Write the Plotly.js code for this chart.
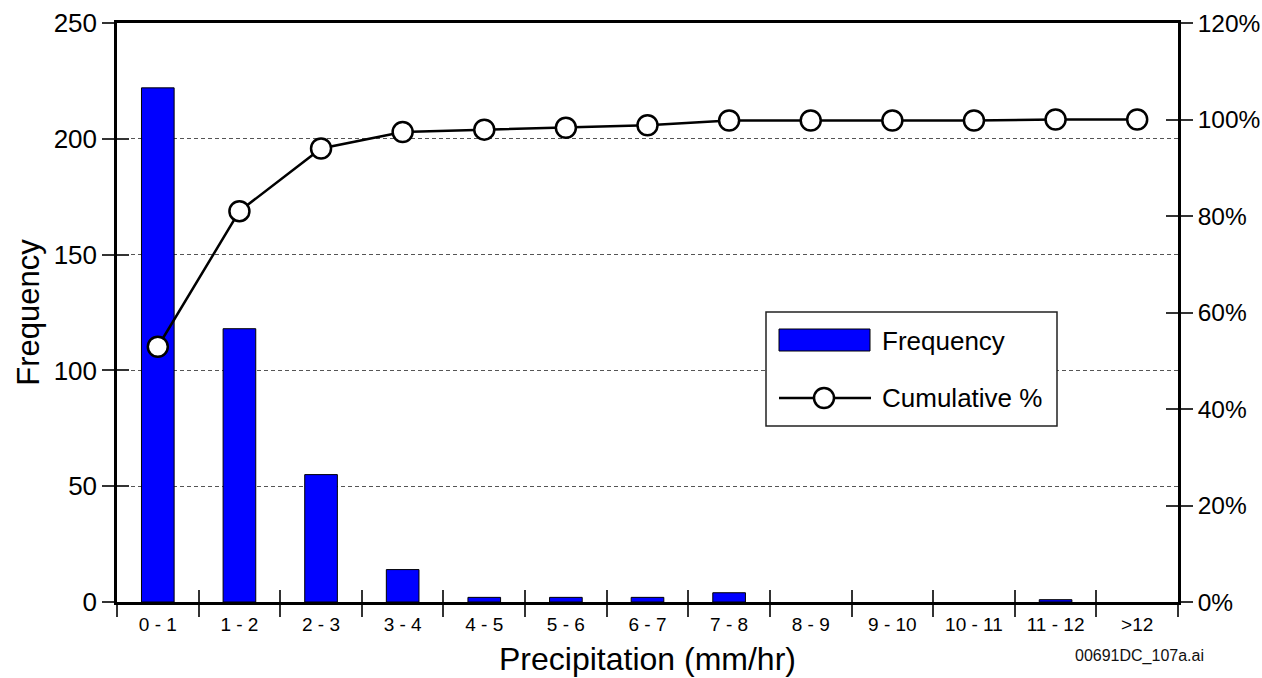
<!DOCTYPE html>
<html><head><meta charset="utf-8">
<script src="https://cdn.plot.ly/plotly-3.0.1.min.js"></script>
<style>html,body{margin:0;padding:0;background:#fff}#chart{width:1262px;height:678px}</style>
</head><body><div id="chart"></div>
<script>
const categories = ['0 - 1','1 - 2','2 - 3','3 - 4','4 - 5','5 - 6','6 - 7','7 - 8','8 - 9','9 - 10','10 - 11','11 - 12','>12'];
const frequency = [222,118,55,14,2,2,2,4,0,0,0,1,0];
const cumulativePct = [52.9,81.0,94.0,97.4,97.9,98.3,98.8,99.8,99.8,99.8,99.8,100,100];
const leftTicks = [0,50,100,150,200,250];
const rightTicks = [0,20,40,60,80,100,120];
const rightTickLabels = ['0%','20%','40%','60%','80%','100%','120%'];
const legendLabels = ['Frequency','Cumulative %'];
const fileTag = '00691DC_107a.ai';

const FONT = '"Liberation Sans", Arial, Helvetica, sans-serif';
const M = {l:117, r:84, t:23, b:76};
const W = 1262, H = 678;
const PW = W - M.l - M.r, PH = H - M.t - M.b;
const px = v => (v - M.l) / PW;
const py = v => (H - M.b - v) / PH;
const boundaries = categories.map((_, i) => i - 0.5).concat([categories.length - 0.5]);

const traces = [
  {type:'bar', x:categories, y:frequency, name:legendLabels[0], width:0.4,
   marker:{color:'#0000ff', line:{color:'#000', width:frequency.map(v => v > 0 ? 1 : 0)}},
   showlegend:false, hoverinfo:'x+y'},
  {type:'scatter', mode:'lines+markers', x:categories, y:cumulativePct, yaxis:'y2', name:legendLabels[1],
   line:{color:'#000', width:2.5},
   marker:{symbol:'circle', size:20, color:'#fff', line:{color:'#000', width:2.5}},
   showlegend:false, cliponaxis:false},
  {type:'scatter', x:[], y:[], xaxis:'x2', showlegend:false, hoverinfo:'skip'},
  {type:'scatter', x:[], y:[], yaxis:'y3', showlegend:false, hoverinfo:'skip'},
  {type:'scatter', x:[], y:[], yaxis:'y4', showlegend:false, hoverinfo:'skip'}
];

const tickStyle = {ticklen:12, tickwidth:1.5, tickcolor:'#333'};

const layout = {
  width:W, height:H, margin:M, paper_bgcolor:'#fff', plot_bgcolor:'#fff',
  font:{family:FONT, color:'#000', size:26},
  showlegend:false, bargap:0.6,
  xaxis:Object.assign({type:'category', categoryorder:'array', categoryarray:categories,
    range:[-0.5, categories.length - 0.5], ticks:'outside', tickson:'boundaries',
    showline:true, linecolor:'#000', linewidth:2.5, mirror:true, showgrid:false, zeroline:false,
    tickfont:{size:19, family:FONT}, ticklabelstandoff:3,
    title:{text:'Precipitation (mm/hr)', font:{size:32, family:FONT}, standoff:15}}, tickStyle),
  xaxis2:Object.assign({overlaying:'x', anchor:'y', side:'bottom', range:[-0.5, categories.length - 0.5],
    tickmode:'array', tickvals:boundaries, ticks:'inside', showticklabels:false,
    showgrid:false, zeroline:false, showline:false}, tickStyle),
  yaxis:Object.assign({range:[0,250], tickmode:'array', tickvals:leftTicks, ticks:'outside',
    showline:true, linecolor:'#000', linewidth:2.5, zeroline:false,
    showgrid:true, gridcolor:'#555', gridwidth:1, griddash:'4px,3px',
    tickfont:{size:26, family:FONT},
    title:{text:'Frequency', font:{size:31, family:FONT}, standoff:5}}, tickStyle),
  yaxis3:Object.assign({overlaying:'y', side:'left', anchor:'x', range:[0,250], tickmode:'array', tickvals:leftTicks,
    ticks:'inside', showticklabels:false, showgrid:false, zeroline:false, showline:false}, tickStyle),
  yaxis2:Object.assign({overlaying:'y', side:'right', anchor:'x', range:[0,120], tickmode:'array',
    tickvals:rightTicks, ticktext:rightTickLabels, ticks:'outside', showline:true, linecolor:'#000', linewidth:2.5,
    showgrid:false, zeroline:false, tickfont:{size:24.5, family:FONT}, ticklabelstandoff:0}, tickStyle),
  yaxis4:Object.assign({overlaying:'y', side:'right', anchor:'x', range:[0,120], tickmode:'array', tickvals:rightTicks,
    ticks:'inside', showticklabels:false, showgrid:false, zeroline:false, showline:false}, tickStyle),
  shapes:[
    {type:'rect', xref:'paper', yref:'paper', x0:px(766), x1:px(1057), y0:py(426), y1:py(312),
     fillcolor:'#fff', line:{color:'#222', width:1.5}, layer:'above'},
    {type:'rect', xref:'paper', yref:'paper', x0:px(779), x1:px(870), y0:py(351), y1:py(329),
     fillcolor:'#0000ff', line:{color:'#000', width:1}, layer:'above'},
    {type:'line', xref:'paper', yref:'paper', x0:px(779), x1:px(871), y0:py(398), y1:py(398),
     line:{color:'#000', width:2.5}, layer:'above'},
    {type:'circle', xref:'paper', yref:'paper', xsizemode:'pixel', ysizemode:'pixel',
     xanchor:px(824), yanchor:py(398), x0:-10, x1:10, y0:-10, y1:10,
     fillcolor:'#fff', line:{color:'#000', width:2.5}, layer:'above'}
  ],
  annotations:[
    {xref:'paper', yref:'paper', x:px(880), y:py(341), xanchor:'left', yanchor:'middle', showarrow:false,
     text:legendLabels[0], font:{size:26, family:FONT, color:'#000'}},
    {xref:'paper', yref:'paper', x:px(880), y:py(398), xanchor:'left', yanchor:'middle', showarrow:false,
     text:legendLabels[1], font:{size:26, family:FONT, color:'#000'}},
    {xref:'paper', yref:'paper', x:px(1139), y:py(656), xanchor:'center', yanchor:'middle', showarrow:false,
     text:fileTag, font:{size:16, family:FONT, color:'#111'}}
  ]
};

Plotly.newPlot('chart', traces, layout, {displayModeBar:false, responsive:false});
</script>
</body></html>
